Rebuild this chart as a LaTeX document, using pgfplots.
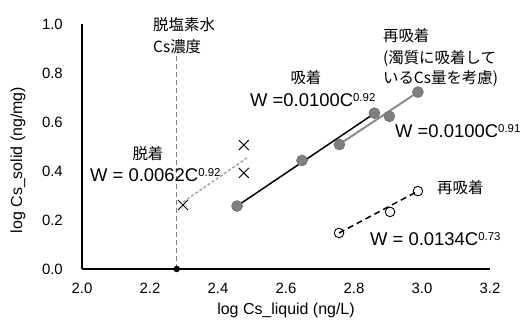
\documentclass[border=0pt]{standalone}
\usepackage{pgfplots}
\pgfplotsset{compat=1.18}
\usepackage{fontspec}
\setmainfont{Liberation Sans}
\newfontfamily\jp{Noto Sans CJK JP}
\definecolor{dotgray}{HTML}{7F7F7F}
\definecolor{linegray}{HTML}{8C8C8C}
\definecolor{desgray}{HTML}{A6A6A6}
\definecolor{vgray}{HTML}{7F7F7F}
\newcommand{\fs}[1]{\fontsize{#1}{#1}\selectfont}
\newcommand{\Weq}[2]{\fs{18.5}#1C\raisebox{5.2bp}{\fs{11.5}#2}}
\begin{document}
\begin{tikzpicture}
\path[use as bounding box] (-82bp,-51bp) rectangle (441bp,269bp);
\begin{axis}[
  scale only axis, width=408bp, height=245bp,
  xmin=2, xmax=3.2, ymin=0, ymax=1,
  axis x line=bottom, axis y line=left,
  axis line style={-, line width=1.5bp, black},
  xtick={2,2.2,2.4,2.6,2.8,3,3.2},
  ytick={0,0.2,0.4,0.6,0.8,1},
  major tick length=0, tick style={draw=none},
  tick label style={font=\fs{15}},
  /pgf/number format/.cd, fixed, fixed zerofill, precision=1, assume math mode=true,
  /pgfplots/.cd,
  xticklabel style={inner sep=0, yshift=-14bp},
  yticklabel style={inner sep=0, xshift=-19bp},
  xlabel={log Cs\_liquid (ng/L)},
  ylabel={log Cs\_solid (ng/mg)},
  label style={font=\fs{16}},
  xlabel style={at={(axis description cs:0.5,-0.167)}, anchor=center},
  ylabel style={at={(axis description cs:-0.157,0.445)}, anchor=center},
  clip=false,
]
% vertical reference line (desalinated water Cs concentration)
\addplot[vgray, line width=1bp, dash pattern=on 5bp off 3bp] coordinates {(2.2785,0) (2.2785,0.873)};
\addplot[only marks, mark=*, mark size=3bp, black] coordinates {(2.2785,0)};
% desorption
\addplot[desgray, line width=1.5bp, dash pattern=on 3bp off 2bp] coordinates {(2.297,0.273) (2.485,0.453)};
\addplot[only marks, mark=x, mark size=7bp, black, mark options={line width=0.9bp}] coordinates {(2.297,0.261) (2.476,0.392) (2.476,0.506)};
% sorption fit
\addplot[black, line width=1.5bp] coordinates {(2.456,0.257) (2.862,0.637)};
% resorption (considering turbidity) fit
\addplot[linegray, line width=2bp] coordinates {(2.756,0.508) (2.988,0.722)};
\addplot[only marks, mark=*, mark size=5.5bp, mark options={fill=dotgray, draw=dotgray!85!black, line width=0.5bp}] coordinates {(2.456,0.257) (2.647,0.443) (2.757,0.508) (2.860,0.636) (2.904,0.623) (2.988,0.722)};
% resorption
\addplot[black, line width=1.5bp, dash pattern=on 6bp off 4bp] coordinates {(2.756,0.147) (2.988,0.318)};
\addplot[only marks, mark=o, mark size=4.8bp, black, mark options={line width=0.9bp}] coordinates {(2.756,0.147) (2.906,0.233) (2.988,0.318)};
% annotations
\node[anchor=west, inner sep=0] at (axis cs:2.2088,0.9976) {\jp\fs{15.5}脱塩素水};
\node[anchor=west, inner sep=0] at (axis cs:2.2088,0.906) {\jp\fs{15.5}Cs濃度};
\node[anchor=center, inner sep=0] at (axis cs:2.194,0.469) {\jp\fs{15.5}脱着};
\node[anchor=west, inner sep=0] at (axis cs:2.0235,0.3837) {\Weq{W = 0.0062}{0.92}};
\node[anchor=center, inner sep=0] at (axis cs:2.6588,0.7796) {\jp\fs{15.5}吸着};
\node[anchor=west, inner sep=0] at (axis cs:2.494,0.69) {\Weq{W =0.0100}{0.92}};
\node[anchor=west, inner sep=0] at (axis cs:2.885,0.951) {\jp\fs{15.5}再吸着};
\node[anchor=west, inner sep=0] at (axis cs:2.885,0.861) {\jp\fs{15.5}(濁質に吸着して};
\node[anchor=west, inner sep=0] at (axis cs:2.885,0.7755) {\jp\fs{15.5}いるCs量を考慮)};
\node[anchor=west, inner sep=0] at (axis cs:2.9206,0.563) {\Weq{W =0.0100}{0.91}};
\node[anchor=west, inner sep=0] at (axis cs:3.044,0.3306) {\jp\fs{15.5}再吸着};
\node[anchor=west, inner sep=0] at (axis cs:2.847,0.1224) {\Weq{W = 0.0134}{0.73}};
\end{axis}
\end{tikzpicture}
\end{document}
